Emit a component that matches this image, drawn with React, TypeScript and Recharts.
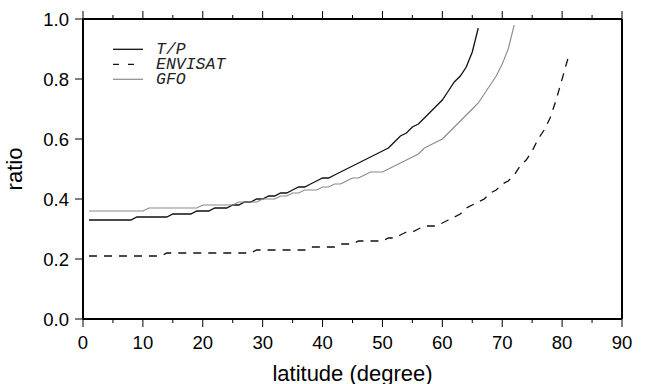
import React from 'react';
import { LineChart, Line, XAxis, YAxis, Legend } from 'recharts';

// latitude (degree) for each sample
const latitudes = [
  1, 2, 3, 4, 5, 6, 7, 8, 9, 10, 11, 12, 13, 14, 15, 16, 17, 18, 19, 20,
  21, 22, 23, 24, 25, 26, 27, 28, 29, 30, 31, 32, 33, 34, 35, 36, 37, 38, 39, 40,
  41, 42, 43, 44, 45, 46, 47, 48, 49, 50, 51, 52, 53, 54, 55, 56, 57, 58, 59, 60,
  61, 62, 63, 64, 65, 66, 67, 68, 69, 70, 71, 72, 73, 74, 75, 76, 77, 78, 79, 80, 81,
];

// T/P ratio, latitudes 1..66
const tpRatio = [
  0.33, 0.33, 0.33, 0.33, 0.33, 0.33, 0.33, 0.33, 0.34, 0.34,
  0.34, 0.34, 0.34, 0.34, 0.35, 0.35, 0.35, 0.35, 0.36, 0.36,
  0.36, 0.37, 0.37, 0.37, 0.38, 0.38, 0.39, 0.39, 0.40, 0.40,
  0.41, 0.41, 0.42, 0.42, 0.43, 0.44, 0.44, 0.45, 0.46, 0.47,
  0.47, 0.48, 0.49, 0.50, 0.51, 0.52, 0.53, 0.54, 0.55, 0.56,
  0.57, 0.59, 0.61, 0.62, 0.64, 0.65, 0.67, 0.69, 0.71, 0.73,
  0.76, 0.79, 0.81, 0.84, 0.89, 0.97,
];

// ENVISAT ratio, latitudes 1..81
const envisatRatio = [
  0.21, 0.21, 0.21, 0.21, 0.21, 0.21, 0.21, 0.21, 0.21, 0.21,
  0.21, 0.21, 0.21, 0.22, 0.22, 0.22, 0.22, 0.22, 0.22, 0.22,
  0.22, 0.22, 0.22, 0.22, 0.22, 0.22, 0.22, 0.22, 0.23, 0.23,
  0.23, 0.23, 0.23, 0.23, 0.23, 0.23, 0.23, 0.24, 0.24, 0.24,
  0.24, 0.24, 0.25, 0.25, 0.25, 0.26, 0.26, 0.26, 0.26, 0.26,
  0.27, 0.27, 0.28, 0.29, 0.29, 0.30, 0.31, 0.31, 0.31, 0.32,
  0.33, 0.34, 0.35, 0.37, 0.38, 0.39, 0.40, 0.42, 0.43, 0.45,
  0.46, 0.48, 0.51, 0.53, 0.56, 0.60, 0.63, 0.67, 0.73, 0.80,
  0.87,
];

// GFO ratio, latitudes 1..72
const gfoRatio = [
  0.36, 0.36, 0.36, 0.36, 0.36, 0.36, 0.36, 0.36, 0.36, 0.36,
  0.37, 0.37, 0.37, 0.37, 0.37, 0.37, 0.37, 0.37, 0.37, 0.38,
  0.38, 0.38, 0.38, 0.38, 0.38, 0.39, 0.39, 0.39, 0.39, 0.40,
  0.40, 0.40, 0.41, 0.41, 0.42, 0.42, 0.43, 0.43, 0.43, 0.44,
  0.44, 0.45, 0.45, 0.46, 0.47, 0.47, 0.48, 0.49, 0.49, 0.49,
  0.50, 0.51, 0.52, 0.53, 0.54, 0.55, 0.57, 0.58, 0.59, 0.60,
  0.62, 0.64, 0.66, 0.68, 0.70, 0.72, 0.75, 0.78, 0.81, 0.85,
  0.90, 0.98,
];

const xTicks = [0, 5, 10, 15, 20, 25, 30, 35, 40, 45, 50, 55, 60, 65, 70, 75, 80, 85, 90];
const yTicks = [0, 0.2, 0.4, 0.6, 0.8, 1.0];

const seriesNames = ['T/P', 'ENVISAT', 'GFO'];
const seriesColors = ['#111111', '#111111', '#8a8a8a'];

const data = latitudes.map((lat, i) => ({
  lat,
  tp: tpRatio[i],
  envisat: envisatRatio[i],
  gfo: gfoRatio[i],
}));

const SANS = '"Liberation Sans", Arial, Helvetica, sans-serif';
const MONO = '"Liberation Mono", "Courier New", monospace';

function BottomTick(props: any) {
  const { x, y, payload } = props;
  const v = payload.value as number;
  const major = v % 10 === 0;
  return (
    <g>
      <line x1={x} x2={x} y1={y} y2={y + (major ? 8 : 4)} stroke="#000" strokeWidth={1} />
      {major ? (
        <text x={x} y={y + 29.5} textAnchor="middle" fontFamily={SANS} fontSize={18.5} fill="#000">
          {v}
        </text>
      ) : null}
    </g>
  );
}

function TopTick(props: any) {
  const { x, y, payload } = props;
  const v = payload.value as number;
  const major = v % 10 === 0;
  return <line x1={x} x2={x} y1={y} y2={y - (major ? 8 : 4)} stroke="#000" strokeWidth={1} />;
}

function XTitle(props: any) {
  const vb = props.viewBox || { x: 83, y: 319, width: 539, height: 65 };
  return (
    <text x={vb.x + vb.width / 2} y={vb.y + 62} textAnchor="middle" fontFamily={SANS} fontSize={22} fill="#000">
      latitude (degree)
    </text>
  );
}

function YTitle(props: any) {
  const vb = props.viewBox || { x: 0, y: 19, width: 83, height: 300 };
  const cx = vb.x + 22;
  const cy = vb.y + vb.height / 2;
  return (
    <text x={cx} y={cy} transform={`rotate(-90 ${cx} ${cy})`} textAnchor="middle" fontFamily={SANS} fontSize={22} fill="#000">
      ratio
    </text>
  );
}

function LegendBox() {
  const dashes = [undefined, '6 9', undefined];
  const widths = [1.3, 1.3, 1.2];
  return (
    <svg width={150} height={48} style={{ display: 'block' }}>
      {seriesNames.map((name, i) => {
        const cy = 8.3 + i * 15;
        return (
          <g key={name}>
            <line x1={0} x2={30} y1={cy} y2={cy} stroke={seriesColors[i]} strokeWidth={widths[i]} strokeDasharray={dashes[i]} />
            <text x={43} y={cy + 4.5} fontFamily={MONO} fontStyle="italic" fontSize={16.5} fill="#222">
              {name}
            </text>
          </g>
        );
      })}
    </svg>
  );
}

export default function App() {
  return (
    <div style={{ position: 'absolute', left: 0, top: 0, background: '#fff' }}>
      <LineChart width={646} height={384} data={data} margin={{ top: 0, right: 0, bottom: 0, left: 0 }}>
        <XAxis
          xAxisId="bottom"
          dataKey="lat"
          type="number"
          domain={[0, 90]}
          ticks={xTicks}
          interval={0}
          height={65}
          tickLine={false}
          tickSize={0}
          tickMargin={0}
          tick={<BottomTick />}
          axisLine={{ stroke: '#000', strokeWidth: 2 }}
          label={<XTitle />}
          allowDataOverflow
        />
        <XAxis
          xAxisId="top"
          orientation="top"
          dataKey="lat"
          type="number"
          domain={[0, 90]}
          ticks={xTicks}
          interval={0}
          height={19}
          tickLine={false}
          tickSize={0}
          tickMargin={0}
          tick={<TopTick />}
          axisLine={{ stroke: '#000', strokeWidth: 2 }}
          allowDataOverflow
        />
        <YAxis
          yAxisId="left"
          type="number"
          domain={[0, 1]}
          ticks={yTicks}
          interval={0}
          width={83}
          tickSize={8}
          tickMargin={6}
          tickLine={{ stroke: '#000', strokeWidth: 1 }}
          tick={{ fill: '#000', fontSize: 18.5, fontFamily: SANS }}
          tickFormatter={(v: number) => v.toFixed(1)}
          axisLine={{ stroke: '#000', strokeWidth: 2 }}
          label={<YTitle />}
          allowDataOverflow
        />
        <YAxis
          yAxisId="right"
          orientation="right"
          type="number"
          domain={[0, 1]}
          ticks={yTicks}
          interval={0}
          width={24}
          tickSize={8}
          tickLine={{ stroke: '#000', strokeWidth: 1 }}
          tick={false}
          axisLine={{ stroke: '#000', strokeWidth: 2 }}
          allowDataOverflow
        />
        <Legend
          layout="vertical"
          align="center"
          verticalAlign="middle"
          content={() => <LegendBox />}
          wrapperStyle={{ position: 'absolute', left: 113, top: 41, width: 150, height: 48 }}
        />
        <Line
          xAxisId="bottom"
          yAxisId="left"
          dataKey="tp"
          name={seriesNames[0]}
          stroke={seriesColors[0]}
          strokeWidth={1.3}
          dot={false}
          activeDot={false}
          isAnimationActive={false}
        />
        <Line
          xAxisId="bottom"
          yAxisId="left"
          dataKey="envisat"
          name={seriesNames[1]}
          stroke={seriesColors[1]}
          strokeWidth={1.3}
          strokeDasharray="8 7"
          dot={false}
          activeDot={false}
          isAnimationActive={false}
        />
        <Line
          xAxisId="top"
          yAxisId="right"
          dataKey="gfo"
          name={seriesNames[2]}
          stroke={seriesColors[2]}
          strokeWidth={1.1}
          dot={false}
          activeDot={false}
          isAnimationActive={false}
        />
      </LineChart>
    </div>
  );
}
